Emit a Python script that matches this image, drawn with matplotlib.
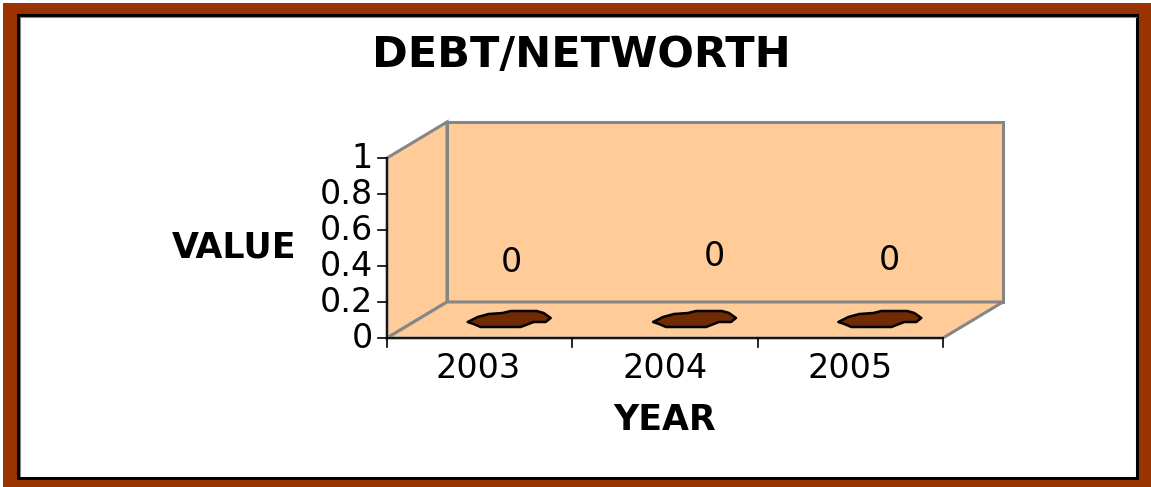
import matplotlib
matplotlib.use('Agg')
import matplotlib.pyplot as plt
from matplotlib.patches import Polygon, Rectangle

years = ['2003', '2004', '2005']
values = [0, 0, 0]
y_ticks = [0, 0.2, 0.4, 0.6, 0.8, 1]
y_tick_labels = ['0', '0.2', '0.4', '0.6', '0.8', '1']

# data labels are not lined up in the original, offsets in px
label_lift = [75, 82, 78]
label_shift = [3, 20, 10]
year_shift = [-2, 0, 0]

WALL = '#FFCC99'
GREY = '#868686'
BROWN = '#993300'
DARK = '#722B00'

# the original lettering is a stretched Arial, DejaVu is the closest in width
plt.rcParams['font.family'] = ['DejaVu Sans']

fig = plt.figure(figsize=(11.51, 4.87), dpi=100)
ax = fig.add_axes([0, 0, 1, 1])
ax.set_xlim(0, 1151)
ax.set_ylim(487, 0)
ax.axis('off')

# frame
ax.add_patch(Rectangle((3, 3), 1148, 484, fc=BROWN, ec='none'))
ax.add_patch(Rectangle((18.5, 14.5), 1119, 463.5, fc='white', ec='black', lw=2.2))
ax.plot([20.5, 1136], [16.5, 16.5], color=GREY, lw=0.8)
ax.plot([20.5, 20.5], [16.5, 476], color=GREY, lw=0.8)

# plot box
x0, x1 = 387, 943
y0, y1 = 338, 158
dx, dy = 60, -36


def ypos(v):
    return y0 + (y1 - y0) * v


def xpos(i):
    return x0 + (x1 - x0) * (i + 0.5) / len(years)


ax.add_patch(Polygon([(x0 + dx, y0 + dy), (x1 + dx, y0 + dy), (x1 + dx, y1 + dy), (x0 + dx, y1 + dy)],
                     fc=WALL, ec=GREY, lw=2.2, zorder=1))
ax.add_patch(Polygon([(x0, y0), (x0 + dx, y0 + dy), (x0 + dx, y1 + dy), (x0, y1)],
                     fc=WALL, ec=GREY, lw=2.2, zorder=1))
ax.add_patch(Polygon([(x0, y0), (x1, y0), (x1 + dx, y0 + dy), (x0 + dx, y0 + dy)],
                     fc=WALL, ec=GREY, lw=2.2, zorder=1))

# axes lines and ticks
ax.plot([x0, x0], [y0, y1], color='black', lw=1.2, zorder=3)
ax.plot([x0, x1], [y0, y0], color='black', lw=1.2, zorder=3)
for t, lab in zip(y_ticks, y_tick_labels):
    ax.plot([x0 - 9, x0], [ypos(t), ypos(t)], color='black', lw=1.2, zorder=3)
    ax.text(373, ypos(t) + 1, lab, ha='right', va='center', fontsize=24)
for i in range(len(years) + 1):
    tx = x0 + (x1 - x0) * i / len(years)
    ax.plot([tx, tx], [y0, y0 + 9], color='black', lw=1.2, zorder=3)

# flattened zero height columns
blob = [(-42, 6), (-36, 3), (-32, 1), (-21, -2), (-7, -3), (1, -5), (27, -5), (34, -3), (41, 2), (36, 6), (24, 6),
        (11, 11), (-29, 11), (-36, 8)]
for i, (year, v) in enumerate(zip(years, values)):
    cx = xpos(i) + 30
    cy = ypos(v) - 22
    ax.add_patch(Polygon([(cx + a, cy + b) for a, b in blob], fc=DARK, ec='black', lw=1.8, joinstyle='round', zorder=4))
    ax.text(xpos(i) + 29 + label_shift[i], ypos(v) - label_lift[i], str(v), ha='center', va='center', fontsize=24, zorder=5)
    ax.text(xpos(i) + year_shift[i], 369, year, ha='center', va='center', fontsize=24)

ax.text(581, 55, 'DEBT/NETWORTH', ha='center', va='center', fontsize=31, fontweight='bold')
ax.text(234, 248, 'VALUE', ha='center', va='center', fontsize=25, fontweight='bold')
ax.text(665, 420, 'YEAR', ha='center', va='center', fontsize=25, fontweight='bold')

fig.savefig('out.png', dpi=100)
